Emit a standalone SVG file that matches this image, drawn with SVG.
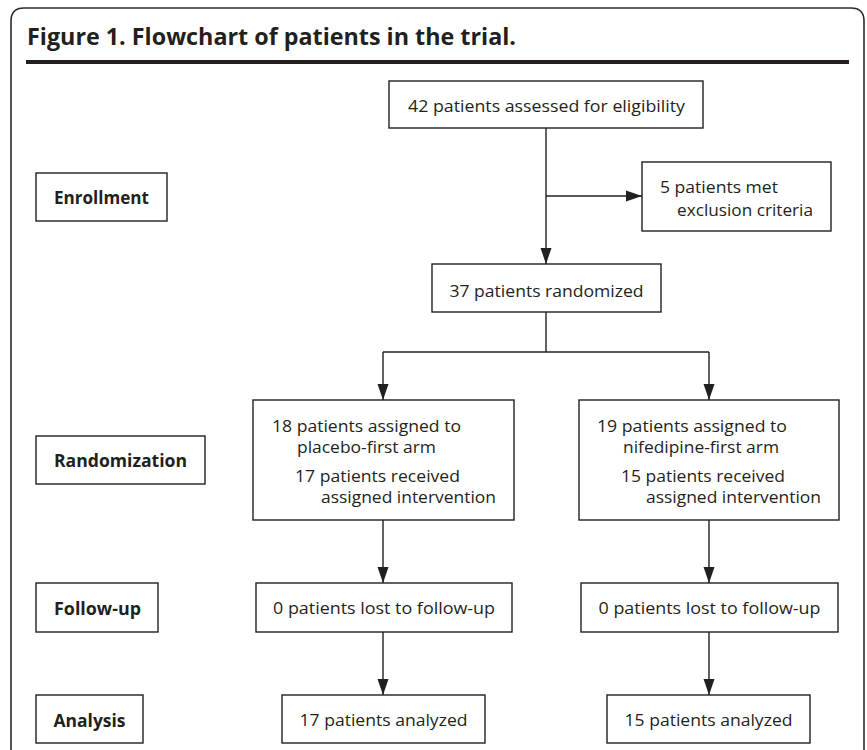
<svg xmlns="http://www.w3.org/2000/svg" width="867" height="750" viewBox="0 0 867 750">
<defs>
<style>
.bg{fill:#ffffff}
.frame{fill:none;stroke:#2b2b2b;stroke-width:1.6}
.rule{stroke:#231f20;stroke-width:4}
.title{font-family:"Open Sans","Liberation Sans",sans-serif;font-weight:700;font-size:23px;fill:#231f20}
.box{fill:#ffffff;stroke:#231f20;stroke-width:1.4}
.t{font-family:"Open Sans","Liberation Sans",sans-serif;font-size:17px;fill:#231f20}
.lb{font-family:"Open Sans","Liberation Sans",sans-serif;font-weight:700;font-size:18px;fill:#231f20}
.c{fill:none;stroke:#231f20;stroke-width:1.4}
.mid{text-anchor:middle}
</style>
<marker id="ah" markerUnits="userSpaceOnUse" markerWidth="16" markerHeight="12" refX="16" refY="6" orient="auto">
<path d="M0,0.5 L16,6 L0,11.5 z" fill="#231f20"/>
</marker>
</defs>
<rect class="bg" x="0" y="0" width="867" height="750"/>
<path class="frame" d="M11,770 V21 Q11,8 24,8 H851 Q864,8 864,21 V770"/>
<line class="rule" x1="26" y1="62" x2="849" y2="62"/>
<text class="title" x="27" y="45" textLength="489" lengthAdjust="spacingAndGlyphs">Figure 1. Flowchart of patients in the trial.</text>

<g id="connectors">
<line class="c" x1="546" y1="128" x2="546" y2="264" marker-end="url(#ah)"/>
<line class="c" x1="546" y1="196" x2="642" y2="196" marker-end="url(#ah)"/>
<polyline class="c" points="546,312 546,352"/>
<polyline class="c" points="383,352 709,352"/>
<polyline class="c" points="383,352 383,400" marker-end="url(#ah)"/>
<polyline class="c" points="709,352 709,400" marker-end="url(#ah)"/>
<line class="c" x1="383" y1="520" x2="383" y2="583" marker-end="url(#ah)"/>
<line class="c" x1="709" y1="520" x2="709" y2="583" marker-end="url(#ah)"/>
<line class="c" x1="383" y1="632" x2="383" y2="695" marker-end="url(#ah)"/>
<line class="c" x1="709" y1="632" x2="709" y2="695" marker-end="url(#ah)"/>
</g>

<g id="label-enrollment">
<rect class="box" x="36" y="173" width="131" height="48"/>
<text class="lb mid" x="101.5" y="203.5" textLength="95" lengthAdjust="spacingAndGlyphs">Enrollment</text>
</g>
<g id="label-randomization">
<rect class="box" x="36" y="436" width="169" height="48"/>
<text class="lb mid" x="120.5" y="466.5" textLength="133" lengthAdjust="spacingAndGlyphs">Randomization</text>
</g>
<g id="label-followup">
<rect class="box" x="36" y="583" width="122" height="49"/>
<text class="lb mid" x="97.5" y="614.5" textLength="87" lengthAdjust="spacingAndGlyphs">Follow-up</text>
</g>
<g id="label-analysis">
<rect class="box" x="36" y="695" width="107" height="48"/>
<text class="lb mid" x="89.5" y="726.5" textLength="72" lengthAdjust="spacingAndGlyphs">Analysis</text>
</g>

<g id="assessed">
<rect class="box" x="389" y="81" width="314" height="47"/>
<text class="t mid" x="546.5" y="112" textLength="277" lengthAdjust="spacingAndGlyphs">42 patients assessed for eligibility</text>
</g>
<g id="excluded">
<rect class="box" x="642" y="162" width="189" height="69"/>
<text class="t" x="660" y="193" textLength="118" lengthAdjust="spacingAndGlyphs">5 patients met</text>
<text class="t" x="677" y="216" textLength="136" lengthAdjust="spacingAndGlyphs">exclusion criteria</text>
</g>
<g id="randomized">
<rect class="box" x="432" y="264" width="229" height="48"/>
<text class="t mid" x="546.5" y="297" textLength="194" lengthAdjust="spacingAndGlyphs">37 patients randomized</text>
</g>
<g id="placebo-arm">
<rect class="box" x="253" y="400" width="261" height="120"/>
<text class="t" x="272" y="432" textLength="189" lengthAdjust="spacingAndGlyphs">18 patients assigned to</text>
<text class="t" x="297" y="453" textLength="139" lengthAdjust="spacingAndGlyphs">placebo-first arm</text>
<text class="t" x="295" y="482" textLength="165" lengthAdjust="spacingAndGlyphs">17 patients received</text>
<text class="t" x="321" y="503" textLength="175" lengthAdjust="spacingAndGlyphs">assigned intervention</text>
</g>
<g id="nifedipine-arm">
<rect class="box" x="579" y="400" width="260" height="120"/>
<text class="t" x="597" y="432" textLength="190" lengthAdjust="spacingAndGlyphs">19 patients assigned to</text>
<text class="t" x="623" y="453" textLength="156" lengthAdjust="spacingAndGlyphs">nifedipine-first arm</text>
<text class="t" x="621" y="482" textLength="164" lengthAdjust="spacingAndGlyphs">15 patients received</text>
<text class="t" x="646" y="503" textLength="175" lengthAdjust="spacingAndGlyphs">assigned intervention</text>
</g>
<g id="followup-left">
<rect class="box" x="256" y="583" width="256" height="49"/>
<text class="t mid" x="384" y="614" textLength="222" lengthAdjust="spacingAndGlyphs">0 patients lost to follow-up</text>
</g>
<g id="followup-right">
<rect class="box" x="581" y="583" width="257" height="49"/>
<text class="t mid" x="709.5" y="614" textLength="222" lengthAdjust="spacingAndGlyphs">0 patients lost to follow-up</text>
</g>
<g id="analysis-left">
<rect class="box" x="282" y="695" width="203" height="48"/>
<text class="t mid" x="383.5" y="726" textLength="168" lengthAdjust="spacingAndGlyphs">17 patients analyzed</text>
</g>
<g id="analysis-right">
<rect class="box" x="607" y="695" width="203" height="48"/>
<text class="t mid" x="708.5" y="726" textLength="168" lengthAdjust="spacingAndGlyphs">15 patients analyzed</text>
</g>
</svg>
